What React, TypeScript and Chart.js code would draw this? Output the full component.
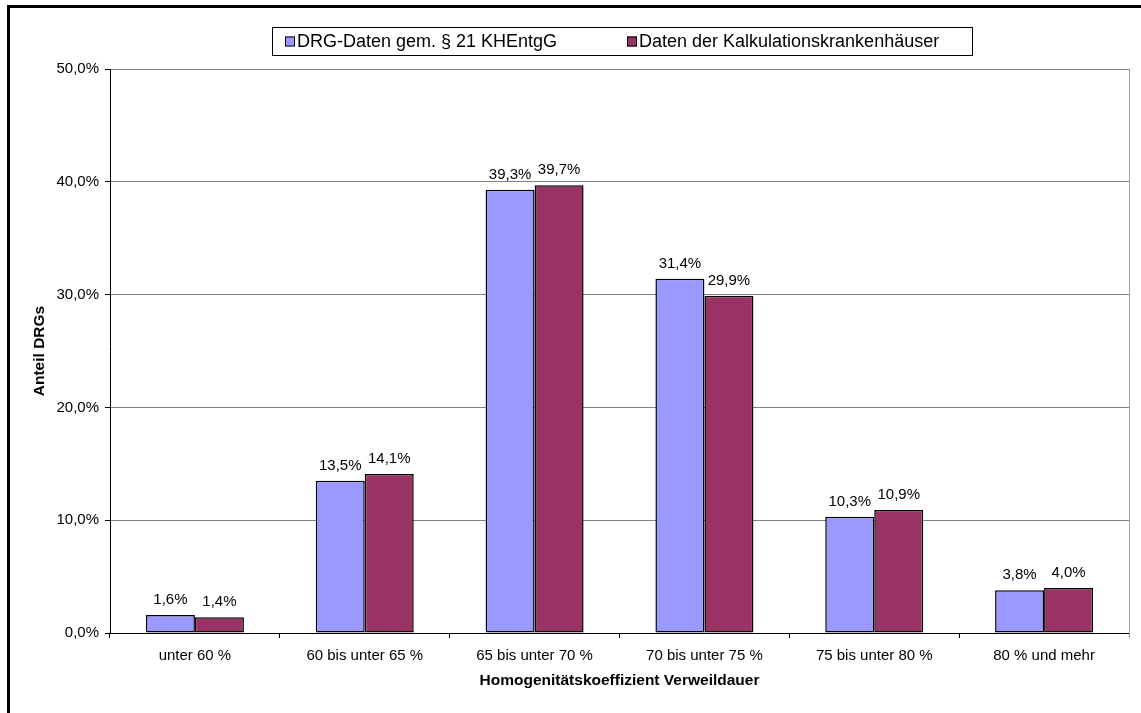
import React, { useEffect, useRef } from "react";
import { Chart, registerables } from "chart.js";

Chart.register(...registerables);

const categories = [
  "unter 60 %",
  "60 bis unter 65 %",
  "65 bis unter 70 %",
  "70 bis unter 75 %",
  "75 bis unter 80 %",
  "80 % und mehr",
];
const seriesNames = ["DRG-Daten gem. § 21 KHEntgG", "Daten der Kalkulationskrankenhäuser"];
const drgDaten = [1.6, 13.5, 39.3, 31.4, 10.3, 3.8];
const kalkDaten = [1.4, 14.1, 39.7, 29.9, 10.9, 4.0];
const yTicks = [0, 10, 20, 30, 40, 50];
const xTitle = "Homogenitätskoeffizient Verweildauer";
const yTitle = "Anteil DRGs";

const FONT = "'Liberation Sans', Arial, sans-serif";
const fmt = (v: number) => v.toFixed(1).replace(".", ",") + "%";

const decorPlugin = {
  id: "decor",
  afterDatasetsDraw(chart: any) {
    const ctx = chart.ctx;
    ctx.save();
    ctx.font = `15px ${FONT}`;
    ctx.fillStyle = "#000";
    ctx.textAlign = "center";
    ctx.textBaseline = "middle";
    chart.data.datasets.forEach((ds: any, i: number) => {
      const meta = chart.getDatasetMeta(i);
      meta.data.forEach((el: any, j: number) => {
        ctx.fillText(fmt(ds.data[j]), el.x, el.y - 15);
      });
    });
    ctx.restore();
  },
  afterDraw(chart: any) {
    const ctx = chart.ctx;
    const area = chart.chartArea;
    ctx.save();
    // right plot edge
    ctx.strokeStyle = "#a0a0a0";
    ctx.lineWidth = 1;
    ctx.beginPath();
    ctx.moveTo(Math.round(area.right) + 0.5, area.top);
    ctx.lineTo(Math.round(area.right) + 0.5, area.bottom + 5);
    ctx.stroke();
    // outer frame
    ctx.fillStyle = "#000";
    ctx.fillRect(7, 5, chart.width, 3);
    ctx.fillRect(7, 5, 3, chart.height);
    // legend
    const lx = 272.5, ly = 27.5, lw = 700, lh = 28;
    ctx.strokeStyle = "#000";
    ctx.lineWidth = 1;
    ctx.strokeRect(lx, ly, lw, lh);
    ctx.font = `18px ${FONT}`;
    ctx.textAlign = "left";
    ctx.textBaseline = "middle";
    const itemX = [285, 627];
    chart.data.datasets.forEach((ds: any, i: number) => {
      const x = itemX[i];
      const cy = ly + lh / 2;
      ctx.fillStyle = ds.backgroundColor;
      ctx.fillRect(x, cy - 5, 10, 10);
      ctx.strokeStyle = "#000";
      ctx.strokeRect(x + 0.5, cy - 4.5, 9, 9);
      ctx.fillStyle = "#000";
      ctx.fillText(ds.label, x + 12, cy + 1);
    });
    ctx.restore();
  },
};

export default function App() {
  const ref = useRef<HTMLCanvasElement>(null);
  useEffect(() => {
    if (!ref.current) return;
    const chart = new Chart(ref.current, {
      type: "bar",
      data: {
        labels: categories,
        datasets: [
          {
            label: seriesNames[0],
            data: drgDaten,
            backgroundColor: "#9999FF",
            borderColor: "#000",
            borderWidth: 1.5,
            borderSkipped: false,
          },
          {
            label: seriesNames[1],
            data: kalkDaten,
            backgroundColor: "#993366",
            borderColor: "#000",
            borderWidth: 1.5,
            borderSkipped: false,
          },
        ],
      },
      options: {
        responsive: false,
        animation: false,
        layout: { padding: { top: 69, right: 12, left: 0, bottom: 0 } },
        datasets: { bar: { categoryPercentage: 0.577, barPercentage: 1 } },
        plugins: {
          legend: { display: false },
          tooltip: { enabled: false },
          title: { display: false },
        },
        scales: {
          x: {
            offset: true,
            grid: {
              offset: true,
              drawOnChartArea: false,
              drawTicks: true,
              tickLength: 5,
              tickColor: "#000",
              color: "#000",
            },
            border: { color: "#000", width: 1 },
            ticks: {
              color: "#000",
              font: { family: FONT, size: 15 },
              padding: 9,
              maxRotation: 0,
              autoSkip: false,
            },
            title: {
              display: true,
              text: xTitle,
              color: "#000",
              font: { family: FONT, size: 15.5, weight: "bold" },
              padding: { top: 0, bottom: 23 },
            },
            afterFit: (s: any) => {
              s.height = 80;
            },
          },
          y: {
            min: 0,
            max: 50,
            afterBuildTicks: (s: any) => {
              s.ticks = yTicks.map((v) => ({ value: v }));
            },
            grid: {
              color: "#808080",
              tickColor: "#000",
              tickLength: 5,
            },
            border: { color: "#000", width: 1 },
            ticks: {
              color: "#000",
              font: { family: FONT, size: 15 },
              padding: 6,
              callback: (v: any) => fmt(Number(v)),
            },
            title: {
              display: true,
              text: yTitle,
              color: "#000",
              font: { family: FONT, size: 15.5, weight: "bold" },
              padding: { top: 30, bottom: 0 },
            },
            afterFit: (s: any) => {
              s.width = 110;
            },
          },
        },
      },
      plugins: [decorPlugin],
    });
    return () => chart.destroy();
  }, []);
  return (
    <canvas
      ref={ref}
      width={1141}
      height={713}
      style={{ position: "fixed", left: 0, top: 0, width: 1141, height: 713, display: "block", background: "#fff" }}
    />
  );
}
